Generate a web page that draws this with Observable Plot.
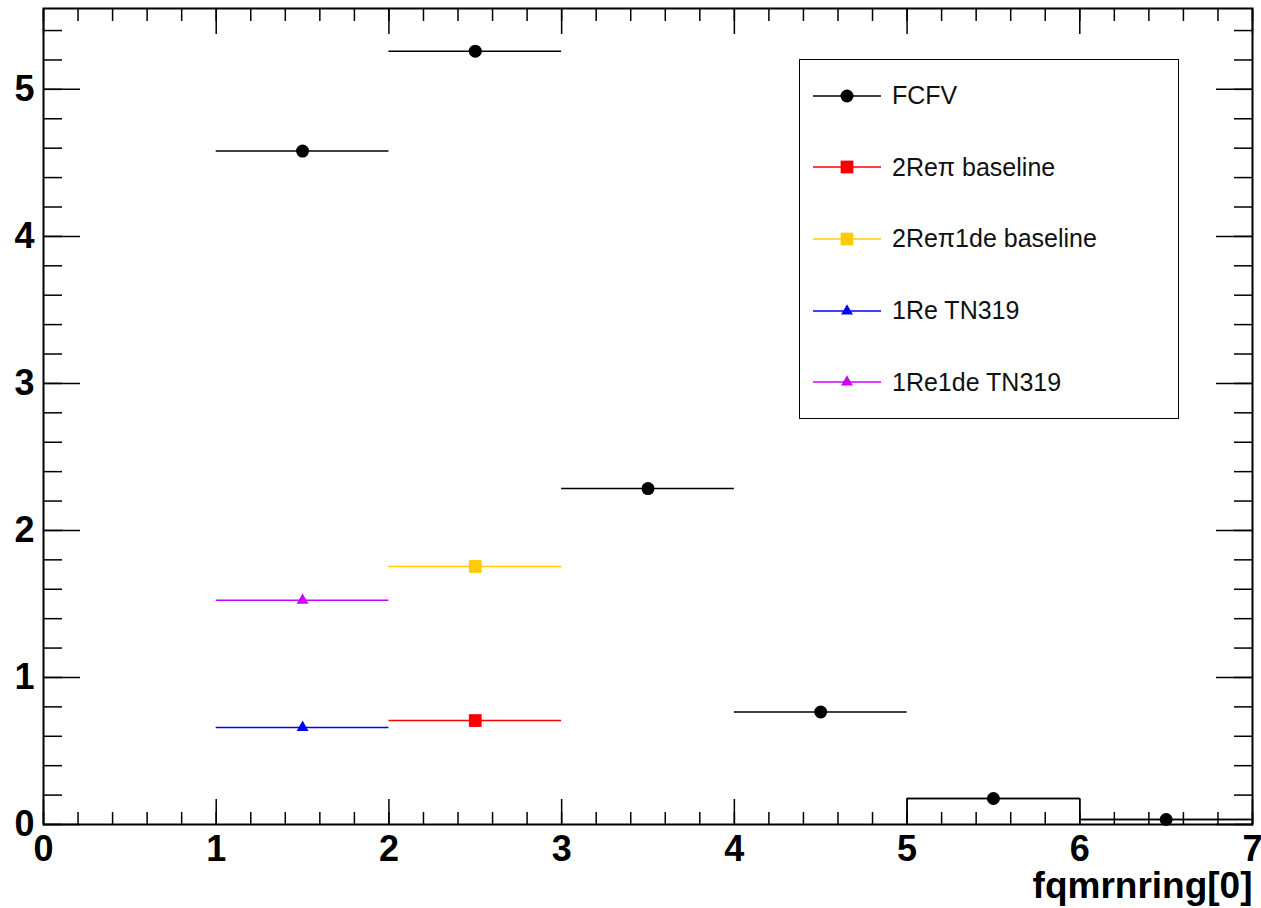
<!DOCTYPE html>
<html><head><meta charset="utf-8">
<script src="https://cdn.jsdelivr.net/npm/d3@7"></script>
<script src="https://cdn.jsdelivr.net/npm/@observablehq/plot@0.6"></script>
<style>
body{margin:0;background:#fff;font-family:"Liberation Sans",Arial,sans-serif}
#wrap{position:relative;width:1261px;height:908px}
#legend{position:absolute;left:799px;top:59px;width:380px;height:360px;border:1.5px solid #000;box-sizing:border-box;background:#fff;display:flex;flex-direction:column}
.row{flex:1;display:flex;align-items:center;font-size:25px;color:#111}
.row svg{margin-left:13px;margin-right:11px}
</style></head><body><div id="wrap"><div id="legend"></div></div>
<script>
// tick labels
const xMajor = [0,1,2,3,4,5,6,7];
const yMajor = [0,1,2,3,4,5];
const xTitle = "fqmrnring[0]";

// series names / styles
const seriesNames = ["FCFV","2Reπ baseline","2Reπ1de baseline","1Re TN319","1Re1de TN319"];
const seriesColors = ["#000000","#ff0000","#ffcc00","#0000ff","#cc00ff"];
const seriesSymbols = ["circle","square","square","triangle","triangle"];
const seriesR = [6.5,7.2,7.2,4.4,4.4];

// bin low edges and values (bin width 1)
const fcfvLow = [1,2,3,4,5,6];
const fcfvVal = [4.58,5.26,2.285,0.765,0.177,0.034];
const re2piLow = [2];
const re2piVal = [0.707];
const re2pi1deLow = [2];
const re2pi1deVal = [1.755];
const re1Low = [1];
const re1Val = [0.66];
const re1deLow = [1];
const re1deVal = [1.525];

const lows = [fcfvLow, re2piLow, re2pi1deLow, re1Low, re1deLow];
const vals = [fcfvVal, re2piVal, re2pi1deVal, re1Val, re1deVal];

const rows = [];
lows.forEach((lo, s) => lo.forEach((l, i) => rows.push({s, x1: l, x2: l + 1, x: l + 0.5, y: vals[s][i]})));

// step outline for the last FCFV bins (from 5 onwards)
const stepPts = [];
fcfvLow.forEach((l, i) => {
  if (l >= 5) {
    if (stepPts.length === 0) stepPts.push({x: l, y: 0});
    stepPts.push({x: l, y: fcfvVal[i]});
    stepPts.push({x: l + 1, y: fcfvVal[i]});
  }
});

const xMinor = d3.range(0, 7.0001, 0.2).map(d => +d.toFixed(2));
const yMinor = d3.range(0, 5.5001, 0.2).map(d => +d.toFixed(2));
const blank = () => "";

const plot = Plot.plot({
  width: 1261, height: 908,
  marginLeft: 43, marginRight: 9, marginTop: 8, marginBottom: 84,
  style: {fontFamily: "'Liberation Sans', Arial, sans-serif", fontWeight: "bold", color: "#000", background: "#fff"},
  x: {domain: [0, 7]},
  y: {domain: [0, 5.55]},
  marks: [
    Plot.axisX({anchor: "bottom", ticks: xMinor, tickSize: -12, tickFormat: blank, label: null, strokeWidth: 1.5}),
    Plot.axisX({anchor: "bottom", ticks: xMajor, tickSize: -25, tickFormat: blank, label: null, strokeWidth: 1.5}),
    Plot.axisX({anchor: "top", ticks: xMinor, tickSize: -12, tickFormat: blank, label: null, strokeWidth: 1.5}),
    Plot.axisX({anchor: "top", ticks: xMajor, tickSize: -25, tickFormat: blank, label: null, strokeWidth: 1.5}),
    Plot.axisY({anchor: "left", ticks: yMinor, tickSize: -19, tickFormat: blank, label: null, strokeWidth: 1.5}),
    Plot.axisY({anchor: "left", ticks: yMajor, tickSize: -37, tickFormat: blank, label: null, strokeWidth: 1.5}),
    Plot.axisY({anchor: "right", ticks: yMinor, tickSize: -19, tickFormat: blank, label: null, strokeWidth: 1.5}),
    Plot.axisY({anchor: "right", ticks: yMajor, tickSize: -37, tickFormat: blank, label: null, strokeWidth: 1.5}),
    Plot.axisX({anchor: "bottom", ticks: xMajor, tickSize: 0, tickPadding: 11, fontSize: 36, label: null, tickFormat: d => String(d)}),
    Plot.axisY({anchor: "left", ticks: yMajor, tickSize: 0, tickPadding: 9, fontSize: 36, label: null, tickFormat: d => String(d)}),
    Plot.text([xTitle], {frameAnchor: "bottom-right", textAnchor: "end", lineAnchor: "middle", dy: 62, fontSize: 37, fill: "#000"}),
    Plot.line(stepPts, {x: "x", y: "y", stroke: "#000", strokeWidth: 1.5}),
    Plot.ruleY(rows, {y: "y", x1: "x1", x2: "x2", stroke: d => seriesColors[d.s], strokeWidth: 1.5}),
    Plot.dot(rows, {x: "x", y: "y", symbol: d => seriesSymbols[d.s], r: d => seriesR[d.s], fill: d => seriesColors[d.s], stroke: "none"}),
    Plot.frame({stroke: "#000", strokeWidth: 2})
  ],
  symbol: {type: "identity"},
  r: {type: "identity"},
  color: {type: "identity"}
});
document.getElementById("wrap").prepend(plot);

// legend
const legend = document.getElementById("legend");
seriesNames.forEach((name, s) => {
  const row = document.createElement("div");
  row.className = "row";
  const sym = d3.symbol(d3["symbol" + seriesSymbols[s][0].toUpperCase() + seriesSymbols[s].slice(1)], Math.PI * seriesR[s] * seriesR[s])();
  row.innerHTML = `<svg width="68" height="20"><line x1="0" x2="68" y1="10" y2="10" stroke="${seriesColors[s]}" stroke-width="1.5"/><path d="${sym}" transform="translate(34,10)" fill="${seriesColors[s]}"/></svg><span>${name}</span>`;
  legend.appendChild(row);
});
</script></body></html>
